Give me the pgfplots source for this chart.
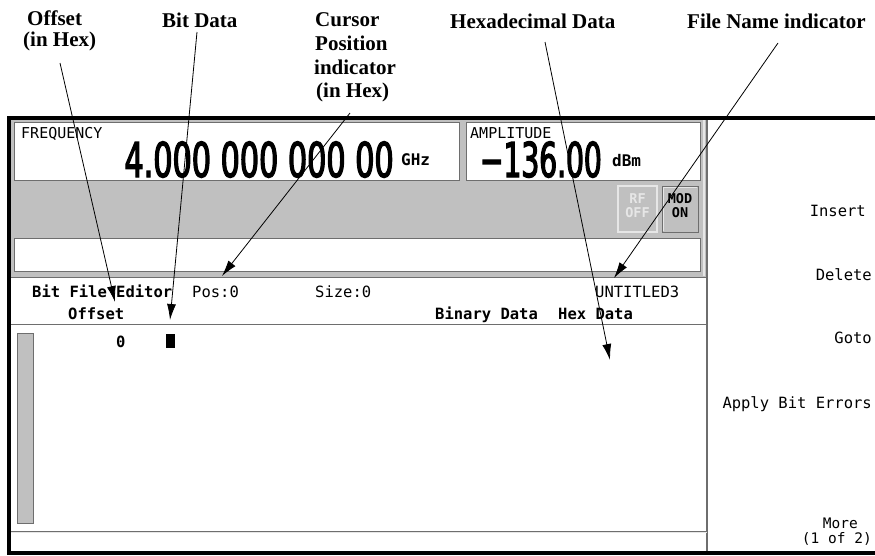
\documentclass[border=0pt]{standalone}
\usepackage{fontspec}
\setmainfont{Liberation Serif}
\newfontfamily\mono{DejaVu Sans Mono}
\newfontfamily\bigdisp[FakeStretch=0.63, FakeBold=2.5]{DejaVu Sans}
\newfontfamily\bigdispb[FakeStretch=0.585, FakeBold=2.5]{DejaVu Sans}
\usepackage{pgfplots}
\pgfplotsset{compat=1.18}
\usetikzlibrary{arrows.meta}
\definecolor{panel}{HTML}{C0C0C0}
\definecolor{edge}{HTML}{6E6E6E}
\definecolor{lite}{HTML}{E6E6E6}
\newcommand{\ms}{\mono\fontsize{15.5}{16}\selectfont}
\newcommand{\ann}{\fontsize{21}{24}\selectfont\bfseries}
\begin{document}
\begin{tikzpicture}
\begin{axis}[scale only axis, width=875pt, height=555pt,
  xmin=0, xmax=875, ymin=0, ymax=555, y dir=reverse,
  hide axis, clip=false]
% grey panel
\fill[panel] (axis cs:10,119) rectangle (axis cs:707,277);
\draw[edge, line width=1pt] (axis cs:10,277) -- (axis cs:707,277);
\draw[lite, line width=1.5pt] (axis cs:704,119) -- (axis cs:704,276);
\draw[edge, line width=1.2pt] (axis cs:707,119) -- (axis cs:707,553);
% boxes
\filldraw[fill=white, draw=edge, line width=1pt] (axis cs:14.5,122.5) rectangle (axis cs:459,180);
\filldraw[fill=white, draw=edge, line width=1pt] (axis cs:466,122.5) rectangle (axis cs:700,180);
\filldraw[fill=white, draw=edge, line width=1pt] (axis cs:14.5,238) rectangle (axis cs:700,271);
\filldraw[fill=panel, draw=lite, line width=1.5pt] (axis cs:618,186) rectangle (axis cs:657,232);
\filldraw[fill=panel, draw=edge, line width=1pt] (axis cs:662,186) rectangle (axis cs:698,232);
\draw[lite, line width=1.2pt] (axis cs:663.5,231) -- (axis cs:663.5,187.5) -- (axis cs:697,187.5);
% editor lines
\draw[edge, line width=1pt] (axis cs:10,324) -- (axis cs:707,324);
\filldraw[fill=panel, draw=edge, line width=1pt] (axis cs:17,333) rectangle (axis cs:33,523);
\draw[edge, line width=1pt] (axis cs:10,531) -- (axis cs:707,531);
\draw[lite, line width=1pt] (axis cs:10,532.5) -- (axis cs:707,532.5);
\fill[black] (axis cs:166,334) rectangle (axis cs:175,348);
% outer frame
\draw[black, line width=4pt] (axis cs:875,117.5) -- (axis cs:8.5,117.5) -- (axis cs:8.5,553) -- (axis cs:875,553);
% display texts
\node[anchor=base west, inner sep=0] at (axis cs:21,138) {\mono\fontsize{15}{16}\selectfont FREQUENCY};
\node[anchor=base west, inner sep=0] at (axis cs:470,138) {\mono\fontsize{15}{16}\selectfont AMPLITUDE};
\node[anchor=base east, inner sep=0] at (axis cs:394,177) {\bigdisp\fontsize{48}{48}\selectfont 4.000 000 000 00};
\node[anchor=base west, inner sep=0] at (axis cs:401,165) {\mono\bfseries\fontsize{16}{16}\selectfont GHz};
\node[anchor=base east, inner sep=0] at (axis cs:602,177) {\bigdispb\fontsize{48}{48}\selectfont −136.00};
\node[anchor=base west, inner sep=0] at (axis cs:612,166) {\mono\bfseries\fontsize{16}{16}\selectfont dBm};
\node[anchor=base, inner sep=0, text=lite] at (axis cs:637.5,203) {\mono\bfseries\fontsize{13.5}{14}\selectfont RF};
\node[anchor=base, inner sep=0, text=lite] at (axis cs:637.5,217) {\mono\bfseries\fontsize{13.5}{14}\selectfont OFF};
\node[anchor=base, inner sep=0] at (axis cs:680,203) {\mono\bfseries\fontsize{13.5}{14}\selectfont MOD};
\node[anchor=base, inner sep=0] at (axis cs:680,217) {\mono\bfseries\fontsize{13.5}{14}\selectfont ON};
% softkeys
\node[anchor=base east, inner sep=0] at (axis cs:866,216) {\ms Insert};
\node[anchor=base east, inner sep=0] at (axis cs:872,280) {\ms Delete};
\node[anchor=base east, inner sep=0] at (axis cs:872,343) {\ms Goto};
\node[anchor=base east, inner sep=0] at (axis cs:872,408) {\ms Apply Bit Errors};
\node[anchor=base east, inner sep=0] at (axis cs:858,528) {\mono\fontsize{14.5}{15}\selectfont More};
\node[anchor=base east, inner sep=0] at (axis cs:872,543) {\mono\fontsize{14.5}{15}\selectfont (1 of 2)};
% editor texts
\node[anchor=base west, inner sep=0] at (axis cs:32,297) {\ms\bfseries Bit File Editor};
\node[anchor=base west, inner sep=0] at (axis cs:192,297) {\ms Pos:0};
\node[anchor=base west, inner sep=0] at (axis cs:315,297) {\ms Size:0};
\node[anchor=base west, inner sep=0] at (axis cs:595,297) {\ms UNTITLED3};
\node[anchor=base west, inner sep=0] at (axis cs:68,319) {\ms\bfseries Offset};
\node[anchor=base west, inner sep=0] at (axis cs:435,319) {\ms\bfseries Binary Data};
\node[anchor=base west, inner sep=0] at (axis cs:558,319) {\ms\bfseries Hex Data};
\node[anchor=base west, inner sep=0] at (axis cs:116,347) {\ms\bfseries 0};
% annotation texts
\node[anchor=base west, inner sep=0] at (axis cs:27,25) {\ann Offset};
\node[anchor=base west, inner sep=0] at (axis cs:23,46) {\ann (in Hex)};
\node[anchor=base west, inner sep=0] at (axis cs:162,27) {\ann Bit Data};
\node[anchor=base west, inner sep=0] at (axis cs:315,26) {\ann Cursor};
\node[anchor=base west, inner sep=0] at (axis cs:315,50) {\ann Position};
\node[anchor=base west, inner sep=0] at (axis cs:314,74) {\ann indicator};
\node[anchor=base west, inner sep=0] at (axis cs:316,97) {\ann (in Hex)};
\node[anchor=base west, inner sep=0] at (axis cs:450,28) {\ann Hexadecimal Data};
\node[anchor=base west, inner sep=0] at (axis cs:687,28) {\ann File Name indicator};
% arrows
\addplot[black, line width=0.8pt, -{Latex[length=16pt,width=9pt]}] coordinates {(60,63) (115,302)};
\addplot[black, line width=0.8pt, -{Latex[length=16pt,width=9pt]}] coordinates {(197,32) (170,320)};
\addplot[black, line width=0.8pt, -{Latex[length=16pt,width=9pt]}] coordinates {(350,113) (222,276)};
\addplot[black, line width=0.8pt, -{Latex[length=16pt,width=9pt]}] coordinates {(545,42) (610,360)};
\addplot[black, line width=0.8pt, -{Latex[length=16pt,width=9pt]}] coordinates {(778,43) (614,278)};
\end{axis}
\pgfresetboundingbox
\path (current axis.south west) rectangle (current axis.north east);
\end{tikzpicture}
\end{document}
